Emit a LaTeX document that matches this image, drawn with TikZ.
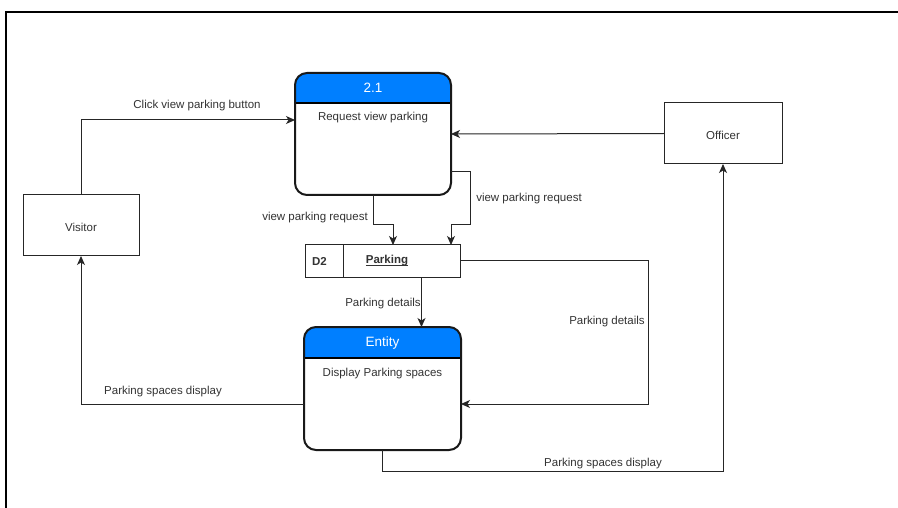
\documentclass[tikz,border=0pt]{standalone}
\usepackage{fontspec}
\setmainfont{Liberation Sans}
\usetikzlibrary{arrows.meta,calc}
\definecolor{hdrblue}{HTML}{007FFF}
\definecolor{ink}{HTML}{333333}

\begin{document}
\begin{tikzpicture}[x=1pt,y=-1pt,
  every node/.style={inner sep=0pt, outer sep=0pt},
  txt/.style={font=\fontsize{11.5}{13}\selectfont, text=ink, yshift=-1.5pt},
  hdrtxt/.style={font=\fontsize{13.5}{15}\selectfont, text=white},
  boldtxt/.style={font=\bfseries\fontsize{11.5}{13}\selectfont, text=ink},
  flow/.style={draw=black!85, line width=1pt, -{Stealth[length=9pt,width=8pt,inset=2.5pt]}},
  entitybox/.style={draw=black!85, line width=1pt, minimum width=116pt, minimum height=61pt},
  procshape/.style={minimum width=156pt, minimum height=122pt},
  procborder/.style={draw=black!90, line width=2pt, rounded corners=12pt},
  storebox/.style={draw=black!85, line width=1pt, minimum width=155pt, minimum height=32pt},
]
\useasboundingbox (0,0) rectangle (898,508);
\fill[white] (0,0) rectangle (898,508);
% outer frame
\draw[line width=2pt] (6,520) -- (6,12) -- (910,12);

% external entities
\node[entitybox] (vis) at (81,225.5) {};
\node[txt] (vistxt) at (vis.center) {Visitor};
\node[entitybox, minimum width=118pt] (off) at (723,133.5) {};
\node[txt] (offtxt) at (off.center) {Officer};

% process 2.1
\node[procshape] (p1) at (373,134) {};
\begin{scope}
  \clip[rounded corners=12pt] (p1.north west) rectangle (p1.south east);
  \fill[hdrblue] (p1.north west) rectangle ([yshift=-30pt]p1.north east);
\end{scope}
\draw[line width=1.2pt] ([yshift=-30pt]p1.north west) -- ([yshift=-30pt]p1.north east);
\draw[procborder] (p1.north west) rectangle (p1.south east);
\node[hdrtxt] (p1id) at ([yshift=-15pt]p1.north) {2.1};
\node[txt] (p1nm) at ([yshift=-43pt]p1.north) {Request view parking};

% data store D2
\node[storebox] (st) at (382.5,261) {};
\draw[black!85, line width=1pt] ([xshift=38pt]st.north west) -- ([xshift=38pt]st.south west);
\node[boldtxt] (stid) at ([xshift=14.5pt]st.west) {D2};
\node[boldtxt] (stnm) at ([xshift=4.5pt]st.center) {Parking};
\draw[ink, line width=0.9pt] ([yshift=-1.6pt]stnm.base west) -- ([yshift=-1.6pt]stnm.base east);

% process Entity
\node[procshape, minimum width=157pt, minimum height=123pt] (e) at (382.5,388.5) {};
\begin{scope}
  \clip[rounded corners=12pt] (e.north west) rectangle (e.south east);
  \fill[hdrblue] (e.north west) rectangle ([yshift=-31pt]e.north east);
\end{scope}
\draw[line width=1.2pt] ([yshift=-31pt]e.north west) -- ([yshift=-31pt]e.north east);
\draw[procborder] (e.north west) rectangle (e.south east);
\node[hdrtxt] (eid) at ([yshift=-16pt]e.north) {Entity};
\node[txt] (enm) at ([yshift=-45pt]e.north) {Display Parking spaces};

% data flows
\draw[flow] (vis.north) |- ([yshift=14pt]p1.west);
\node[txt] (l1) at (197,104) {Click view parking button};

\draw[flow] (off.west) -- (p1.east);

\draw[flow] (p1.south) -- ++(0,30) -| ([xshift=10.5pt]st.north);
\node[txt] (l2) at (315,216) {view parking request};

\draw[flow] ([yshift=-38pt]p1.east) -| ++(19,53) -| ([xshift=-9pt]st.north east);
\node[txt] (l3) at (529,197) {view parking request};

\draw[flow] ([xshift=39pt]st.south) -- ([xshift=39pt]e.north);
\node[txt] (l4) at (383,302) {Parking details};

\draw[flow] (st.east) -- ++(188,0) |- ([yshift=-15.5pt]e.east);
\node[txt] (l5) at (607,320) {Parking details};

\draw[flow] ([yshift=-15.5pt]e.west) -| (vis.south);
\node[txt] (l6) at (163,390) {Parking spaces display};

\draw[flow] (e.south) -- ++(0,21) -| (off.south);
\node[txt] (l7) at (603,462) {Parking spaces display};
\end{tikzpicture}
\end{document}
